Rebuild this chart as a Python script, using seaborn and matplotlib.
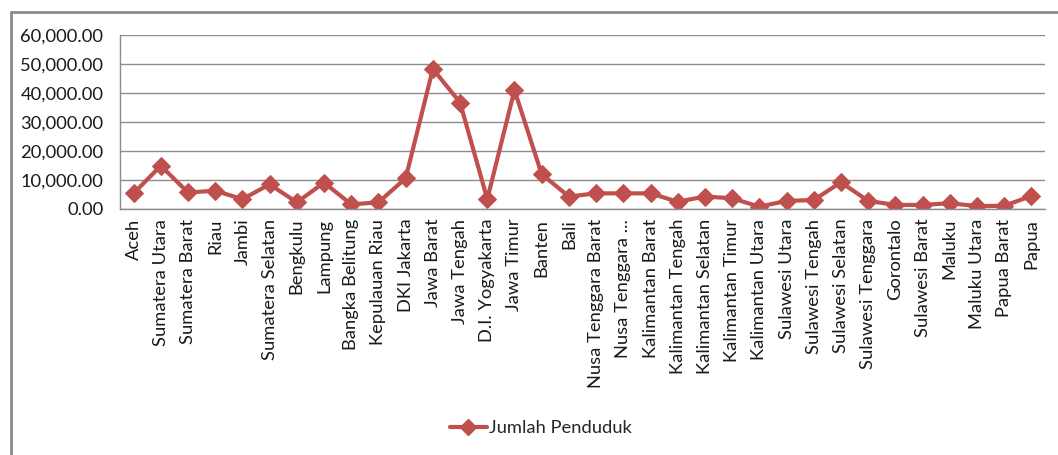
import matplotlib
matplotlib.use("Agg")
import matplotlib.pyplot as plt
from matplotlib.lines import Line2D
import seaborn as sns
import pandas as pd

provinces = [
    "Aceh", "Sumatera Utara", "Sumatera Barat", "Riau", "Jambi",
    "Sumatera Selatan", "Bengkulu", "Lampung", "Bangka Belitung",
    "Kepulauan Riau", "DKI Jakarta", "Jawa Barat", "Jawa Tengah",
    "D.I. Yogyakarta", "Jawa Timur", "Banten", "Bali",
    "Nusa Tenggara Barat", "Nusa Tenggara ...", "Kalimantan Barat",
    "Kalimantan Tengah", "Kalimantan Selatan", "Kalimantan Timur",
    "Kalimantan Utara", "Sulawesi Utara", "Sulawesi Tengah",
    "Sulawesi Selatan", "Sulawesi Tenggara", "Gorontalo",
    "Sulawesi Barat", "Maluku", "Maluku Utara", "Papua Barat", "Papua",
]
population = [
    5400, 14900, 5700, 6300, 3400, 8500, 2300, 9100, 1600, 2300,
    10600, 48300, 36700, 3400, 41000, 12000, 4300, 5400, 5400, 5400,
    2500, 4300, 3700, 800, 2800, 3100, 9200, 2800, 1400, 1400,
    2000, 1000, 1100, 4500,
]
series_name = "Jumlah Penduduk"
y_ticks = [0, 10000, 20000, 30000, 40000, 50000, 60000]

sns.set_theme(style="white")
plt.rcParams["font.family"] = ["Lato", "DejaVu Sans"]

color = "#C0504D"
grid_color = "#8C8C8C"
text_color = "#1a1a1a"
fs = 13.2

df = pd.DataFrame({"Provinsi": provinces, "Jumlah": population})
df["pos"] = range(len(df))

fig = plt.figure(figsize=(10.58, 4.55), dpi=100)
ax = fig.add_axes([120 / 1058, 1 - 209 / 455, (1045 - 120) / 1058, (209 - 35) / 455])

sns.lineplot(data=df, x="pos", y="Jumlah", ax=ax, color=color, linewidth=3,
             marker="D", markersize=9.5, markeredgecolor=color, legend=False)

ax.set_xlim(-0.5, len(provinces) - 0.5)
ax.set_ylim(0, 60000)
ax.set_yticks(y_ticks)
ax.set_yticklabels([f"{v:,.2f}" for v in y_ticks], fontsize=fs, color=text_color)
ax.set_xticks(range(len(provinces)))
ax.set_xticklabels(provinces, rotation=90, fontsize=fs, color=text_color)
ax.tick_params(axis="x", length=0, pad=7)
ax.tick_params(axis="y", length=0, pad=12)
ax.set_xlabel("")
ax.set_ylabel("")

ax.yaxis.grid(True, color=grid_color, linewidth=1)
ax.set_axisbelow(True)
for side in ("top", "right"):
    ax.spines[side].set_visible(False)
for side in ("left", "bottom"):
    ax.spines[side].set_color(grid_color)
    ax.spines[side].set_linewidth(1)

# outer chart frame (left and top edges)
fig.add_artist(Line2D([11 / 1058, 11 / 1058], [0, 1 - 12 / 455],
                      transform=fig.transFigure, color="#8A8A8A", linewidth=2))
fig.add_artist(Line2D([11 / 1058, 1], [1 - 12 / 455, 1 - 12 / 455],
                      transform=fig.transFigure, color="#8A8A8A", linewidth=2))

handle = Line2D([], [], color=color, linewidth=3, marker="D", markersize=8)
fig.legend([handle], [series_name], loc="center", bbox_to_anchor=(541 / 1058, 1 - 428 / 455),
           frameon=False, fontsize=fs, handlelength=2.0, handletextpad=0.15)

fig.savefig("out.png", dpi=100, facecolor="white")
